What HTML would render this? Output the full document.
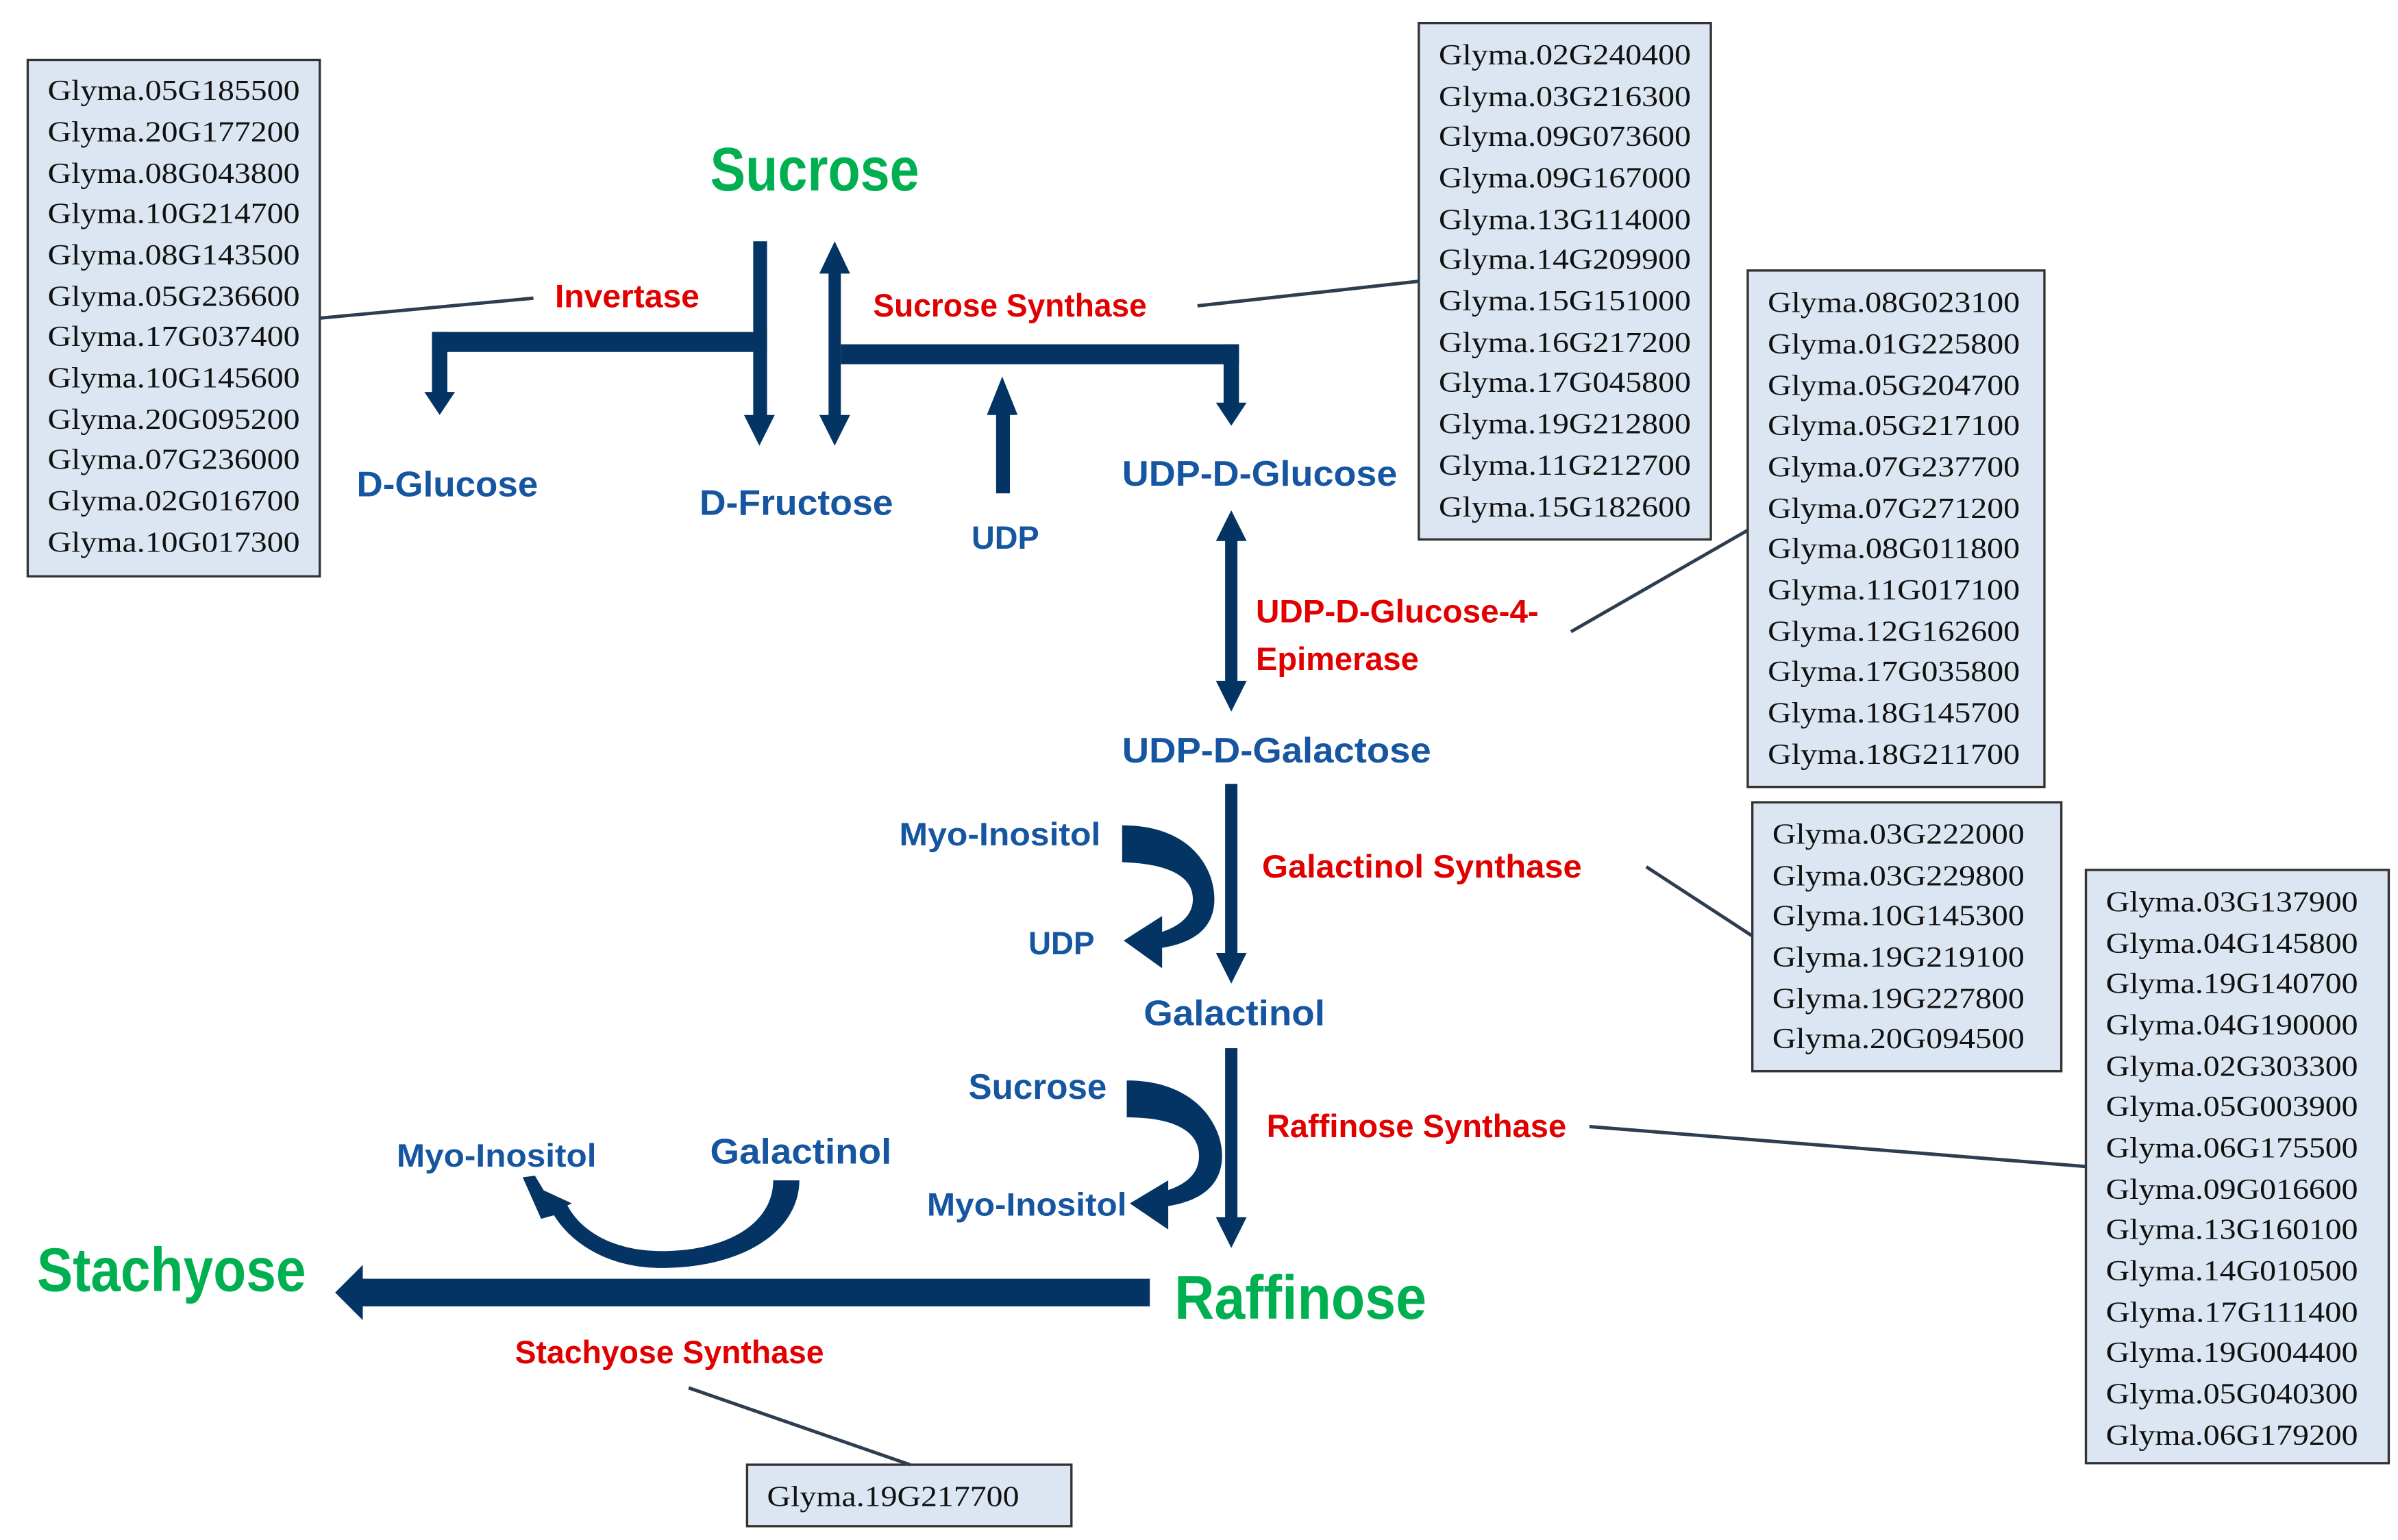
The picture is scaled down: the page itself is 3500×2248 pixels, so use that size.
<!DOCTYPE html>
<html><head><meta charset="utf-8"><style>html,body{margin:0;padding:0;background:#fff}svg{display:block}</style></head><body>
<svg width="3500" height="2248" viewBox="0 0 1560 1002" xmlns="http://www.w3.org/2000/svg">
<defs>
<style>
.g{font-family:"Liberation Serif",serif;font-size:19px;fill:#111}
.b{font-family:"Liberation Sans",sans-serif;font-weight:bold;fill:#1656a0;font-size:23px}
.r{font-family:"Liberation Sans",sans-serif;font-weight:bold;fill:#e00000;font-size:21px}
.gr{font-family:"Liberation Sans",sans-serif;font-weight:bold;fill:#00b050;font-size:40px}
.box{fill:#dce6f2;stroke:#333;stroke-width:1.5}
.ln{stroke:#2d3e50;stroke-width:2.2}
</style>
</defs>
<!-- boxes -->
<rect class="box" x="18" y="39" width="190" height="336"/>
<rect class="box" x="923" y="15" width="190" height="336"/>
<rect class="box" x="1137" y="176" width="193" height="336"/>
<rect class="box" x="1140" y="522" width="201" height="175"/>
<rect class="box" x="1357" y="566" width="197" height="386"/>
<rect class="box" x="486" y="953" width="211" height="40"/>
<g class="g">
<text x="31" y="65" textLength="164" lengthAdjust="spacingAndGlyphs">Glyma.05G185500</text>
<text x="31" y="92" textLength="164" lengthAdjust="spacingAndGlyphs">Glyma.20G177200</text>
<text x="31" y="119" textLength="164" lengthAdjust="spacingAndGlyphs">Glyma.08G043800</text>
<text x="31" y="145" textLength="164" lengthAdjust="spacingAndGlyphs">Glyma.10G214700</text>
<text x="31" y="172" textLength="164" lengthAdjust="spacingAndGlyphs">Glyma.08G143500</text>
<text x="31" y="199" textLength="164" lengthAdjust="spacingAndGlyphs">Glyma.05G236600</text>
<text x="31" y="225" textLength="164" lengthAdjust="spacingAndGlyphs">Glyma.17G037400</text>
<text x="31" y="252" textLength="164" lengthAdjust="spacingAndGlyphs">Glyma.10G145600</text>
<text x="31" y="279" textLength="164" lengthAdjust="spacingAndGlyphs">Glyma.20G095200</text>
<text x="31" y="305" textLength="164" lengthAdjust="spacingAndGlyphs">Glyma.07G236000</text>
<text x="31" y="332" textLength="164" lengthAdjust="spacingAndGlyphs">Glyma.02G016700</text>
<text x="31" y="359" textLength="164" lengthAdjust="spacingAndGlyphs">Glyma.10G017300</text>

<text x="936" y="42" textLength="164" lengthAdjust="spacingAndGlyphs">Glyma.02G240400</text>
<text x="936" y="69" textLength="164" lengthAdjust="spacingAndGlyphs">Glyma.03G216300</text>
<text x="936" y="95" textLength="164" lengthAdjust="spacingAndGlyphs">Glyma.09G073600</text>
<text x="936" y="122" textLength="164" lengthAdjust="spacingAndGlyphs">Glyma.09G167000</text>
<text x="936" y="149" textLength="164" lengthAdjust="spacingAndGlyphs">Glyma.13G114000</text>
<text x="936" y="175" textLength="164" lengthAdjust="spacingAndGlyphs">Glyma.14G209900</text>
<text x="936" y="202" textLength="164" lengthAdjust="spacingAndGlyphs">Glyma.15G151000</text>
<text x="936" y="229" textLength="164" lengthAdjust="spacingAndGlyphs">Glyma.16G217200</text>
<text x="936" y="255" textLength="164" lengthAdjust="spacingAndGlyphs">Glyma.17G045800</text>
<text x="936" y="282" textLength="164" lengthAdjust="spacingAndGlyphs">Glyma.19G212800</text>
<text x="936" y="309" textLength="164" lengthAdjust="spacingAndGlyphs">Glyma.11G212700</text>
<text x="936" y="336" textLength="164" lengthAdjust="spacingAndGlyphs">Glyma.15G182600</text>

<text x="1150" y="203" textLength="164" lengthAdjust="spacingAndGlyphs">Glyma.08G023100</text>
<text x="1150" y="230" textLength="164" lengthAdjust="spacingAndGlyphs">Glyma.01G225800</text>
<text x="1150" y="257" textLength="164" lengthAdjust="spacingAndGlyphs">Glyma.05G204700</text>
<text x="1150" y="283" textLength="164" lengthAdjust="spacingAndGlyphs">Glyma.05G217100</text>
<text x="1150" y="310" textLength="164" lengthAdjust="spacingAndGlyphs">Glyma.07G237700</text>
<text x="1150" y="337" textLength="164" lengthAdjust="spacingAndGlyphs">Glyma.07G271200</text>
<text x="1150" y="363" textLength="164" lengthAdjust="spacingAndGlyphs">Glyma.08G011800</text>
<text x="1150" y="390" textLength="164" lengthAdjust="spacingAndGlyphs">Glyma.11G017100</text>
<text x="1150" y="417" textLength="164" lengthAdjust="spacingAndGlyphs">Glyma.12G162600</text>
<text x="1150" y="443" textLength="164" lengthAdjust="spacingAndGlyphs">Glyma.17G035800</text>
<text x="1150" y="470" textLength="164" lengthAdjust="spacingAndGlyphs">Glyma.18G145700</text>
<text x="1150" y="497" textLength="164" lengthAdjust="spacingAndGlyphs">Glyma.18G211700</text>

<text x="1153" y="549" textLength="164" lengthAdjust="spacingAndGlyphs">Glyma.03G222000</text>
<text x="1153" y="576" textLength="164" lengthAdjust="spacingAndGlyphs">Glyma.03G229800</text>
<text x="1153" y="602" textLength="164" lengthAdjust="spacingAndGlyphs">Glyma.10G145300</text>
<text x="1153" y="629" textLength="164" lengthAdjust="spacingAndGlyphs">Glyma.19G219100</text>
<text x="1153" y="656" textLength="164" lengthAdjust="spacingAndGlyphs">Glyma.19G227800</text>
<text x="1153" y="682" textLength="164" lengthAdjust="spacingAndGlyphs">Glyma.20G094500</text>

<text x="1370" y="593" textLength="164" lengthAdjust="spacingAndGlyphs">Glyma.03G137900</text>
<text x="1370" y="620" textLength="164" lengthAdjust="spacingAndGlyphs">Glyma.04G145800</text>
<text x="1370" y="646" textLength="164" lengthAdjust="spacingAndGlyphs">Glyma.19G140700</text>
<text x="1370" y="673" textLength="164" lengthAdjust="spacingAndGlyphs">Glyma.04G190000</text>
<text x="1370" y="700" textLength="164" lengthAdjust="spacingAndGlyphs">Glyma.02G303300</text>
<text x="1370" y="726" textLength="164" lengthAdjust="spacingAndGlyphs">Glyma.05G003900</text>
<text x="1370" y="753" textLength="164" lengthAdjust="spacingAndGlyphs">Glyma.06G175500</text>
<text x="1370" y="780" textLength="164" lengthAdjust="spacingAndGlyphs">Glyma.09G016600</text>
<text x="1370" y="806" textLength="164" lengthAdjust="spacingAndGlyphs">Glyma.13G160100</text>
<text x="1370" y="833" textLength="164" lengthAdjust="spacingAndGlyphs">Glyma.14G010500</text>
<text x="1370" y="860" textLength="164" lengthAdjust="spacingAndGlyphs">Glyma.17G111400</text>
<text x="1370" y="886" textLength="164" lengthAdjust="spacingAndGlyphs">Glyma.19G004400</text>
<text x="1370" y="913" textLength="164" lengthAdjust="spacingAndGlyphs">Glyma.05G040300</text>
<text x="1370" y="940" textLength="164" lengthAdjust="spacingAndGlyphs">Glyma.06G179200</text>

<text x="499" y="980" textLength="164" lengthAdjust="spacingAndGlyphs">Glyma.19G217700</text>
</g>
<!-- connector lines -->
<g class="ln">
<line x1="208" y1="207" x2="347" y2="194"/>
<line x1="779" y1="199" x2="923" y2="183"/>
<line x1="1022" y1="411" x2="1137" y2="345"/>
<line x1="1071" y1="564" x2="1140" y2="609"/>
<line x1="1034" y1="733" x2="1357" y2="759"/>
<line x1="448" y1="903" x2="592" y2="953"/>
</g>
<!-- arrows -->
<g fill="#033463">
<!-- invertase -->
<rect x="490" y="157" width="9" height="115"/>
<polygon points="484,270 504,270 494,290"/>
<rect x="281" y="216" width="218" height="13"/>
<rect x="281" y="216" width="10" height="40"/>
<polygon points="276,255 296,255 286,270"/>
<!-- sucrose synthase -->
<rect x="539" y="176" width="8" height="96"/>
<polygon points="533,178 553,178 543,157"/>
<polygon points="533,270 553,270 543,290"/>
<rect x="547" y="224" width="259" height="13"/>
<rect x="796" y="224" width="10" height="40"/>
<polygon points="791,262 811,262 801,277"/>
<!-- UDP up -->
<rect x="648" y="268" width="9" height="53"/>
<polygon points="642,270 662,270 652,245"/>
<!-- epimerase -->
<rect x="797" y="350" width="8" height="95"/>
<polygon points="791,352 811,352 801,332"/>
<polygon points="791,443 811,443 801,463"/>
<!-- galactinol synthase -->
<rect x="797" y="510" width="8" height="112"/>
<polygon points="791,620 811,620 801,640"/>
<!-- raffinose -->
<rect x="797" y="682" width="8" height="112"/>
<polygon points="791,792 811,792 801,812"/>
<!-- big arrow -->
<rect x="233" y="832" width="515" height="18"/>
<polygon points="236,823 236,859 218,841"/>
<!-- curved 1 -->
<path d="M730,537 C775,537 790,565 790,585 C790,605 775,614 754,617 L754,607 C770,602 776,594 776,585 C776,570 760,562 730,561 Z"/>
<polygon points="731,612 756,596 756,630"/>
<!-- curved 2 -->
<path d="M733,703 C778,703 795,732 795,752 C795,772 780,782 758,785 L758,775 C774,770 780,762 780,752 C780,736 764,727 733,727 Z"/>
<polygon points="735,783 760,768 760,800"/>
<!-- U arc -->
<path d="M503,768 L520,768 C520,800 485,825 430,825 C392,825 365,805 356,782 L368,782 C376,800 398,814 430,814 C475,814 503,795 503,768 Z"/>
<polygon points="344,770 353,792 372,783"/>
<polygon points="340,766 348,765 363,790 352,793"/>
</g>
<!-- labels -->
<text class="gr" x="462" y="124" textLength="136" lengthAdjust="spacingAndGlyphs">Sucrose</text>
<text class="gr" x="24" y="840" textLength="175" lengthAdjust="spacingAndGlyphs">Stachyose</text>
<text class="gr" x="764" y="858" textLength="164" lengthAdjust="spacingAndGlyphs">Raffinose</text>
<g class="r">
<text x="361" y="200" textLength="94" lengthAdjust="spacingAndGlyphs">Invertase</text>
<text x="568" y="206" textLength="178" lengthAdjust="spacingAndGlyphs">Sucrose Synthase</text>
<text x="817" y="405" textLength="184" lengthAdjust="spacingAndGlyphs">UDP-D-Glucose-4-</text>
<text x="817" y="436" textLength="106" lengthAdjust="spacingAndGlyphs">Epimerase</text>
<text x="821" y="571" textLength="208" lengthAdjust="spacingAndGlyphs">Galactinol  Synthase</text>
<text x="824" y="740" textLength="195" lengthAdjust="spacingAndGlyphs">Raffinose Synthase</text>
<text x="335" y="887" textLength="201" lengthAdjust="spacingAndGlyphs">Stachyose Synthase</text>
</g>
<g class="b">
<text x="232" y="323" textLength="118" lengthAdjust="spacingAndGlyphs">D-Glucose</text>
<text x="455" y="335" textLength="126" lengthAdjust="spacingAndGlyphs">D-Fructose</text>
<text x="632" y="357" textLength="44" lengthAdjust="spacingAndGlyphs" style="font-size:21px">UDP</text>
<text x="730" y="316" textLength="179" lengthAdjust="spacingAndGlyphs">UDP-D-Glucose</text>
<text x="730" y="496" textLength="201" lengthAdjust="spacingAndGlyphs">UDP-D-Galactose</text>
<text x="585" y="550" textLength="131" lengthAdjust="spacingAndGlyphs" style="font-size:21px">Myo-Inositol</text>
<text x="669" y="621" textLength="43" lengthAdjust="spacingAndGlyphs" style="font-size:21px">UDP</text>
<text x="744" y="667" textLength="118" lengthAdjust="spacingAndGlyphs">Galactinol</text>
<text x="630" y="715" textLength="90" lengthAdjust="spacingAndGlyphs">Sucrose</text>
<text x="258" y="759" textLength="130" lengthAdjust="spacingAndGlyphs" style="font-size:21px">Myo-Inositol</text>
<text x="462" y="757" textLength="118" lengthAdjust="spacingAndGlyphs">Galactinol</text>
<text x="603" y="791" textLength="130" lengthAdjust="spacingAndGlyphs" style="font-size:21px">Myo-Inositol</text>
</g>
</svg>
</body></html>
